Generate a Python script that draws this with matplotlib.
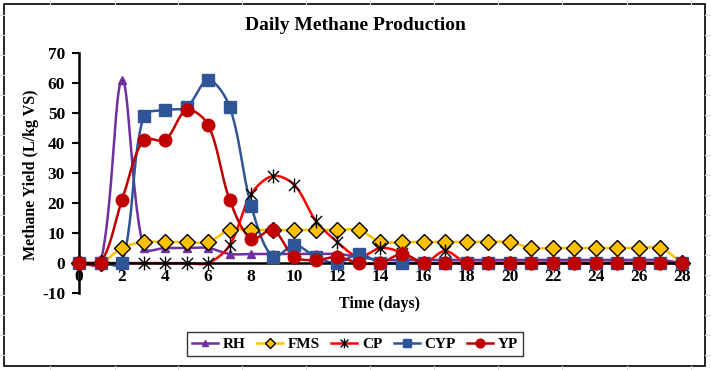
import numpy as np
import matplotlib
matplotlib.use("Agg")
import matplotlib.pyplot as plt
from matplotlib.path import Path
from matplotlib.patches import Rectangle
from matplotlib.lines import Line2D

days = list(range(29))
RH  = [0, 0, 61, 5, 5, 5, 5, 3, 3, 3, 3, 3, 3, 2, 1, 1, 1, 1, 1, 1, 1, 1, 1, 1, 1, 1, 1, 1, 0]
FMS = [0, 0, 5, 7, 7, 7, 7, 11, 11, 11, 11, 11, 11, 11, 7, 7, 7, 7, 7, 7, 7, 5, 5, 5, 5, 5, 5, 5, 0]
CP  = [0, 0, 0, 0, 0, 0, 0, 6, 23, 29, 26, 14, 7, 2, 5, 3.5, 0, 4, 0, 0, 0, 0, 0, 0, 0, 0, 0, 0, 0]
CYP = [0, 0, 0, 49, 51, 52, 61, 52, 19, 2, 6, 2, 0, 3, 0, 0, 0, 0, 0, 0, 0, 0, 0, 0, 0, 0, 0, 0, 0]
YP  = [0, 0, 21, 41, 41, 51, 46, 21, 8, 11, 2, 1, 2, 0, 0, 3, 0, 0, 0, 0, 0, 0, 0, 0, 0, 0, 0, 0, 0]
series_names = ["RH", "FMS", "CP", "CYP", "YP"]
xticks = list(range(0, 29, 2))
yticks = list(range(-10, 71, 10))

XL, XR, YT, YB = 79, 682, 53, 293
SX = (XR - XL) / 28.0   # px per day
SY = (YB - YT) / 80.0   # px per unit


def smooth(x, y, n=24):
    # Excel-like smoothing: Bezier segments, tangents scaled by chord lengths in pixel space
    P = np.column_stack([np.asarray(x, float) * SX, np.asarray(y, float) * SY])
    m = len(P)
    out = []
    t = np.linspace(0, 1, n, endpoint=False)[:, None]
    for i in range(m - 1):
        p0 = P[i-1] if i > 0 else P[i]
        p1, p2 = P[i], P[i+1]
        p3 = P[i+2] if i + 2 < m else P[i+1]
        d01 = np.hypot(*(p1 - p0)); d12 = np.hypot(*(p2 - p1)); d23 = np.hypot(*(p3 - p2))
        f1 = d12 / (d01 + d12) / 3 if d01 + d12 > 0 else 0
        f2 = d12 / (d12 + d23) / 3 if d12 + d23 > 0 else 0
        c1 = p1 + (p2 - p0) * f1
        c2 = p2 - (p3 - p1) * f2
        out.append((1-t)**3*p1 + 3*(1-t)**2*t*c1 + 3*(1-t)*t**2*c2 + t**3*p2)
    out.append(P[-1][None, :])
    out = np.vstack(out)
    return out[:, 0] / SX, out[:, 1] / SY


star = Path([(-1, -1), (1, 1), (-1, 1), (1, -1), (0, -1.25), (0, 1.25)],
            [Path.MOVETO, Path.LINETO, Path.MOVETO, Path.LINETO, Path.MOVETO, Path.LINETO])

serif = ["Liberation Serif", "DejaVu Serif"]
plt.rcParams['font.family'] = serif
plt.rcParams['font.weight'] = 'bold'
plt.rcParams['axes.unicode_minus'] = False

fig = plt.figure(figsize=(7.11, 3.70), dpi=100)

# spreadsheet gridlines outside the chart border
for gx in [50, 115, 178, 242, 306, 370, 434, 498, 562, 627, 691]:
    fig.add_artist(Line2D([gx/711, gx/711], [1 - 4/370, 1], transform=fig.transFigure, color='#D9D9D9', lw=0.8))
    fig.add_artist(Line2D([gx/711, gx/711], [0, 4/370], transform=fig.transFigure, color='#D9D9D9', lw=0.8))
for gy in range(15, 370, 20):
    fig.add_artist(Line2D([0, 4/711], [1 - gy/370, 1 - gy/370], transform=fig.transFigure, color='#D9D9D9', lw=0.8))
    fig.add_artist(Line2D([705/711, 1], [1 - gy/370, 1 - gy/370], transform=fig.transFigure, color='#D9D9D9', lw=0.8))

fig.patches.append(Rectangle((4/711, 4/370), 701/711, 362/370, transform=fig.transFigure,
                             fill=False, edgecolor='black', lw=1.2))

ax = fig.add_axes([XL/711, 1-YB/370, (XR-XL)/711, (YB-YT)/370])
ax.patch.set_alpha(0)

styles = [
    dict(color="#7030A0", marker="^", ms=6, mfc="#7030A0", mec="#7030A0"),
    dict(color="#FFC000", marker="D", ms=8, mfc="#FFC000", mec="black", mew=1),
    dict(color="#FF0000", marker=star, ms=10, mfc="none", mec="black", mew=1),
    dict(color="#2F5597", marker="s", ms=9, mfc="#2F5597", mec="#2F5597"),
    dict(color="#C00000", marker="o", ms=9, mfc="#C00000", mec="#C00000"),
]
data = [RH, FMS, CP, CYP, YP]
handles = []
for name, vals, st in zip(series_names, data, styles):
    sx, sy = smooth(days, vals)
    ax.plot(sx, sy, color=st["color"], lw=1.8, clip_on=False, zorder=2)
    ax.plot(days, vals, ls="none", marker=st["marker"], ms=st["ms"], mfc=st["mfc"],
            mec=st["mec"], mew=st.get("mew", 1), clip_on=False, zorder=3)
    h, = ax.plot([], [], color=st["color"], lw=1.8, marker=st["marker"],
                 ms=st["ms"]*0.7, mfc=st["mfc"], mec=st["mec"], mew=st.get("mew", 1))
    handles.append(h)

ax.set_xlim(0, 28)
ax.set_ylim(-10, 70)
ax.set_xticks(xticks)
ax.set_yticks(yticks)
ax.spines['top'].set_visible(False)
ax.spines['right'].set_visible(False)
ax.spines['bottom'].set_position(('data', 0))
ax.spines['bottom'].set_linewidth(1.8)
ax.spines['left'].set_linewidth(1.8)
ax.tick_params(axis='y', labelsize=12.5, width=1.5, length=5, pad=5)
ax.tick_params(axis='x', labelsize=12.5, length=0, pad=4)
for lab in ax.get_xticklabels() + ax.get_yticklabels():
    lab.set_fontweight('bold')

fig.text(355/711, 1-25/370, "Daily Methane Production", ha='center', va='center',
         fontsize=14, fontweight='bold')
fig.text(380/711, 1-304/370, "Time (days)", ha='center', va='center', fontsize=11.5, fontweight='bold')
fig.text(31/711, 1-175/370, "Methane Yield (L/kg VS)", ha='center', va='center', rotation=90,
         fontsize=11.5, fontweight='bold')

leg = fig.legend(handles, series_names, loc='center', bbox_to_anchor=(355/711, 1-344/370),
                 ncol=5, frameon=True, fancybox=False, edgecolor='black', fontsize=11,
                 handlelength=1.7, columnspacing=0.75, handletextpad=0.3, borderpad=0.35,
                 borderaxespad=0)
leg.get_frame().set_linewidth(1.0)
for t in leg.get_texts():
    t.set_fontweight('bold')

fig.savefig("out.png", dpi=100)
